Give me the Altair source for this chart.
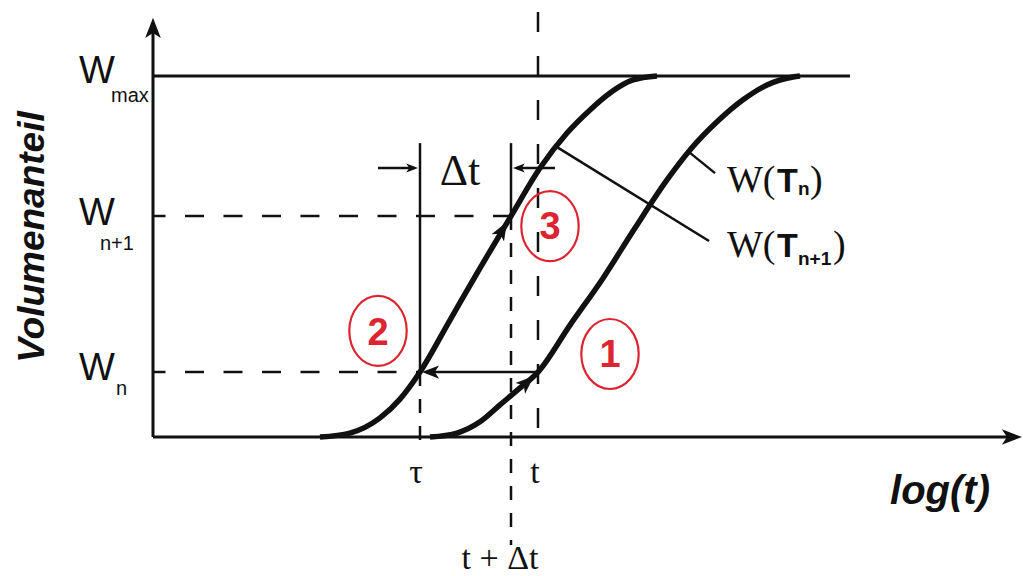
import altair as alt
import pandas as pd

# ---------------------------------------------------------------
# Isothermal transformation curves on a log(t) axis
# (x = position on the log-time axis, w = transformed volume fraction)
# ---------------------------------------------------------------

# W(T_{n+1}) - the faster curve (left)
next_logt = [320, 350, 380, 400, 420, 450, 480, 511, 540, 567, 590, 610, 633, 657]
next_frac = [0.0, 0.011, 0.053, 0.105, 0.18, 0.324, 0.468, 0.612, 0.745, 0.842,
             0.906, 0.953, 0.989, 1.0]

# W(T_n) - the slower curve (right)
now_logt = [430, 457, 480, 500, 520, 538, 570, 603, 635, 667, 690, 717, 743, 767, 793, 800]
now_frac = [0.0, 0.011, 0.042, 0.089, 0.136, 0.18, 0.310, 0.440, 0.579, 0.712,
            0.795, 0.873, 0.934, 0.975, 0.997, 1.0]

# Characteristic levels and times
W_N, W_N1, W_MAX = 0.18, 0.612, 1.0
TAU, T_PLUS_DT, T_NOW = 420, 511, 538

# Axis frame
X0, X_END, X_TIP = 153, 1015, 1022
W_TOP, W_TIP = 1.141, 1.161

W, H = 1023, 576
XS = alt.Scale(domain=[0, W], nice=False, zero=False)
YS = alt.Scale(domain=[-0.385, 1.2105], nice=False, zero=False)

INK = "#111111"
RED = "#dc2530"
SANS = "Liberation Sans"
SERIF = "Liberation Serif"


def segs(rows):
    return pd.DataFrame(rows, columns=["x", "x2", "w", "w2"])


def rules(df, width, dash=None, offset=0):
    kw = dict(color=INK, strokeWidth=width, strokeCap="butt")
    if dash:
        kw["strokeDash"] = dash
        kw["strokeDashOffset"] = offset
    return alt.Chart(df).mark_rule(**kw).encode(
        x=alt.X("x:Q", scale=XS, axis=None),
        x2="x2:Q",
        y=alt.Y("w:Q", scale=YS, axis=None),
        y2="w2:Q",
    )


# Axes and the W_max level
frame = rules(segs([
    [X0, X0, 0.0, W_TOP],
    [X0, X_END, 0.0, 0.0],
    [X0, 850, W_MAX, W_MAX],
]), 3)

# Dashed helper lines (horizontal levels)
dash_h = rules(segs([
    [X0, TAU, W_N, W_N],
    [X0, T_PLUS_DT, W_N1, W_N1],
]), 2.5, [19, 19.5], 6.5)

# Dashed vertical at t, running across the whole diagram
dash_t = rules(segs([[T_NOW, T_NOW, 1.177, -0.028]]), 2.5, [20, 24])

# Short dashed verticals below tau and t+dt
dash_v = rules(segs([
    [TAU, TAU, W_N, -0.028],
    [T_PLUS_DT, T_PLUS_DT, W_N1, -0.299],
]), 2.5, [14, 13])

# Solid thin lines: dt bracket, the step arrow at W_n, label leaders
thin = rules(segs([
    [TAU, TAU, 0.814, W_N],
    [T_PLUS_DT, T_PLUS_DT, 0.814, W_N1],
    [378, 414, 0.745, 0.745],
    [517, 555, 0.745, 0.745],
    [T_NOW, 426, W_N, W_N],
    [557, 709, 0.803, 0.543],
    [690, 715, 0.787, 0.731],
]), 2.5)

# Transformation curves
curves_df = pd.concat([
    pd.DataFrame({"x": next_logt, "w": next_frac, "curve": "W(T_n+1)"}),
    pd.DataFrame({"x": now_logt, "w": now_frac, "curve": "W(T_n)"}),
])
curves = alt.Chart(curves_df).mark_line(
    color=INK, strokeWidth=5.5, interpolate="monotone", strokeCap="butt"
).encode(
    x=alt.X("x:Q", scale=XS, axis=None),
    y=alt.Y("w:Q", scale=YS, axis=None),
    detail="curve:N",
    order="x:Q",
)

# Arrow heads (tip sits at the point, pointing up before rotation)
ARROW = "M0,0 L0.7,1.8 L0,1.35 L-0.7,1.8 Z"
heads_df = pd.DataFrame({
    "x":     [X0, X_TIP, 418, 513, 422, 507, 534],
    "w":     [W_TIP, 0.0, 0.745, 0.745, W_N, 0.596, 0.169],
    "angle": [0, 90, 90, 270, 270, 30, 48],
    "size":  [500, 500, 170, 170, 360, 420, 420],
})
heads = alt.Chart(heads_df).mark_point(
    shape=ARROW, filled=True, color=INK, opacity=1, strokeWidth=0
).encode(
    x=alt.X("x:Q", scale=XS, axis=None),
    y=alt.Y("w:Q", scale=YS, axis=None),
    angle=alt.Angle("angle:Q", scale=None),
    size=alt.Size("size:Q", scale=None),
)

# Red circled step numbers
ELLIPSE = "M-0.82,0 A0.82,1 0 1,0 0.82,0 A0.82,1 0 1,0 -0.82,0 Z"
steps_df = pd.DataFrame({
    "x": [610, 378, 550],
    "w": [0.23, 0.294, 0.584],
    "wb": [0.193, 0.256, 0.548],
    "label": ["1", "2", "3"],
})
rings = alt.Chart(steps_df).mark_point(
    shape=ELLIPSE, filled=False, color=RED, strokeWidth=2.2, size=4900, opacity=1
).encode(
    x=alt.X("x:Q", scale=XS, axis=None),
    y=alt.Y("w:Q", scale=YS, axis=None),
)
ring_text = alt.Chart(steps_df).mark_text(
    font=SANS, fontSize=38, fontWeight="bold", color=RED,
    align="center", baseline="alphabetic"
).encode(
    x=alt.X("x:Q", scale=XS, axis=None),
    y=alt.Y("wb:Q", scale=YS, axis=None),
    text="label:N",
)


def label(rows, **style):
    df = pd.DataFrame(rows, columns=["x", "w", "text"])
    base = dict(color=INK, baseline="alphabetic", align="left")
    base.update(style)
    return alt.Chart(df).mark_text(**base).encode(
        x=alt.X("x:Q", scale=XS, axis=None),
        y=alt.Y("w:Q", scale=YS, axis=None),
        text="text:N",
    )


# Level labels on the vertical axis
w_big = label([[79, 0.981, "W"], [79, 0.587, "W"], [79, 0.158, "W"]],
              font=SANS, fontSize=38)
w_sub = label([[111, 0.928, "max"], [100, 0.518, "n+1"], [116, 0.116, "n"]],
              font=SANS, fontSize=20)

# Time labels
t_marks = label([[416, -0.127, "τ"], [535, -0.127, "t"], [500, -0.366, "t + Δt"]],
                font=SERIF, fontSize=34, align="center")
dt_big = label([[460, 0.698, "Δt"]], font=SERIF, fontSize=44, align="center")

# Curve names
curve_w = label([[727, 0.679, "W("], [727, 0.499, "W("]], font=SERIF, fontSize=38)
curve_T = label([[777, 0.679, "T"], [777, 0.499, "T"]], font=SANS, fontSize=34,
                fontWeight="bold")
curve_sub = label([[798, 0.671, "n"], [798, 0.477, "n+1"]], font=SANS, fontSize=19,
                  fontWeight="bold")
curve_close = label([[810, 0.679, ")"], [833, 0.499, ")"]], font=SERIF, fontSize=38)

# Axis titles
y_title = label([[33, 0.554, "Volumenanteil"]], font=SANS, fontSize=37,
                fontWeight="bold", fontStyle="italic", angle=270,
                align="center", baseline="middle")
x_title = label([[940, -0.186, "log(t)"]], font=SANS, fontSize=40,
                fontWeight="bold", fontStyle="italic", align="center")

chart = alt.layer(
    frame, dash_h, dash_t, dash_v, thin, curves, heads, rings, ring_text,
    w_big, w_sub, t_marks, dt_big,
    curve_w, curve_T, curve_sub, curve_close, y_title, x_title,
).properties(
    width=W, height=H, padding=0, background="white",
    autosize=alt.AutoSizeParams(type="none"),
).configure_view(stroke=None)

chart.save("out.html", embed_options={"renderer": "svg", "actions": False})
